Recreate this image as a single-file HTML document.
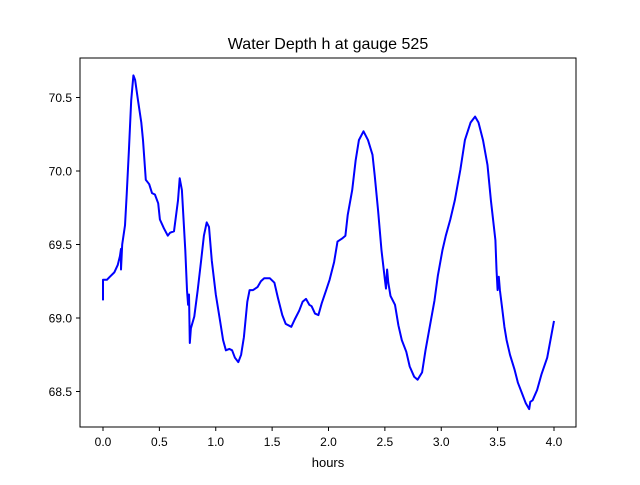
<!DOCTYPE html>
<html><head><meta charset="utf-8"><style>
body{margin:0;background:#fff;}
svg{font-family:"Liberation Sans","DejaVu Sans",sans-serif;}
</style></head><body>
<svg id="chart" width="640" height="480" viewBox="0 0 640 480" xmlns="http://www.w3.org/2000/svg">
<rect width="640" height="480" fill="#fff"/>
<text x="328" y="49" font-size="16" text-anchor="middle">Water Depth h at gauge 525</text>
<g id="plot"></g>
<rect x="80" y="58" width="496" height="369" fill="none" stroke="#000" stroke-width="1"/>
<text x="328" y="467" font-size="13" text-anchor="middle">hours</text>
</svg>
<script>
const xTicks=[0,0.5,1,1.5,2,2.5,3,3.5,4];
const xTickLabels=["0.0","0.5","1.0","1.5","2.0","2.5","3.0","3.5","4.0"];
const yTicks=[68.5,69,69.5,70,70.5];
const yTickLabels=["68.5","69.0","69.5","70.0","70.5"];
const hours=[0,0,0.035,0.06,0.10,0.13,0.15,0.16,0.16,0.17,0.195,0.21,0.23,0.25,0.27,0.285,0.31,0.34,0.355,0.38,0.41,0.435,0.46,0.49,0.505,0.54,0.575,0.595,0.63,0.665,0.68,0.70,0.73,0.745,0.755,0.763,0.77,0.78,0.81,0.84,0.87,0.895,0.92,0.94,0.965,1.0,1.04,1.065,1.09,1.12,1.145,1.17,1.20,1.225,1.25,1.28,1.30,1.33,1.37,1.40,1.43,1.48,1.52,1.55,1.59,1.62,1.67,1.70,1.74,1.77,1.80,1.83,1.85,1.88,1.91,1.94,1.98,2.01,2.05,2.08,2.12,2.15,2.17,2.21,2.24,2.27,2.31,2.35,2.39,2.41,2.44,2.47,2.50,2.51,2.52,2.53,2.55,2.59,2.62,2.65,2.69,2.72,2.76,2.79,2.83,2.86,2.90,2.94,2.97,3.01,3.04,3.08,3.12,3.17,3.21,3.26,3.30,3.33,3.37,3.41,3.44,3.48,3.49,3.50,3.51,3.52,3.54,3.56,3.58,3.61,3.65,3.68,3.72,3.75,3.78,3.79,3.81,3.85,3.89,3.94,4.0];
const depth=[69.12,69.26,69.26,69.28,69.31,69.36,69.42,69.47,69.33,69.50,69.63,69.84,70.14,70.48,70.65,70.62,70.48,70.33,70.21,69.94,69.91,69.85,69.84,69.78,69.67,69.61,69.56,69.58,69.59,69.80,69.95,69.87,69.46,69.19,69.09,69.16,68.83,68.93,69.01,69.19,69.39,69.56,69.65,69.62,69.39,69.16,68.97,68.85,68.78,68.79,68.78,68.73,68.70,68.75,68.87,69.11,69.19,69.19,69.21,69.25,69.27,69.27,69.24,69.14,69.02,68.96,68.94,68.99,69.05,69.11,69.13,69.09,69.08,69.03,69.02,69.10,69.19,69.26,69.38,69.52,69.54,69.56,69.70,69.87,70.07,70.21,70.27,70.21,70.11,69.97,69.73,69.46,69.26,69.20,69.33,69.24,69.15,69.09,68.95,68.85,68.77,68.67,68.60,68.58,68.63,68.78,68.95,69.12,69.29,69.46,69.56,69.67,69.80,70.01,70.21,70.33,70.37,70.33,70.21,70.04,69.80,69.53,69.33,69.19,69.28,69.19,69.07,68.94,68.85,68.75,68.65,68.56,68.48,68.42,68.38,68.43,68.44,68.51,68.62,68.73,68.98];
const X=v=>103+v*112.75;
const Y=v=>318-(v-69)*147;
const NS="http://www.w3.org/2000/svg";
const g=document.getElementById('plot');
function mk(tag,attrs){const e=document.createElementNS(NS,tag);for(const k in attrs)e.setAttribute(k,attrs[k]);g.appendChild(e);return e;}
xTicks.forEach((t,i)=>{
 const l=mk('line',{x1:X(t),x2:X(t),y1:427,y2:431,stroke:'#000'});
 
 
 const tx=mk('text',{x:X(t),y:446,'font-size':12,'text-anchor':'middle'});
 tx.textContent=xTickLabels[i];
 
 
});
yTicks.forEach((t,i)=>{
 const l=mk('line',{x1:76,x2:80,y1:Y(t),y2:Y(t),stroke:'#000'});
 
 
 const tx=mk('text',{x:72,y:Y(t)+4.5,'font-size':12,'text-anchor':'end'});
 tx.textContent=yTickLabels[i];
 
 
});
const pts=hours.map((h,i)=>X(h).toFixed(1)+','+Y(depth[i]).toFixed(1)).join(' ');
const pl=mk('polyline',{points:pts,fill:'none',stroke:'#0000ff','stroke-width':2,'stroke-linejoin':'round'});


</script>
</body></html>
